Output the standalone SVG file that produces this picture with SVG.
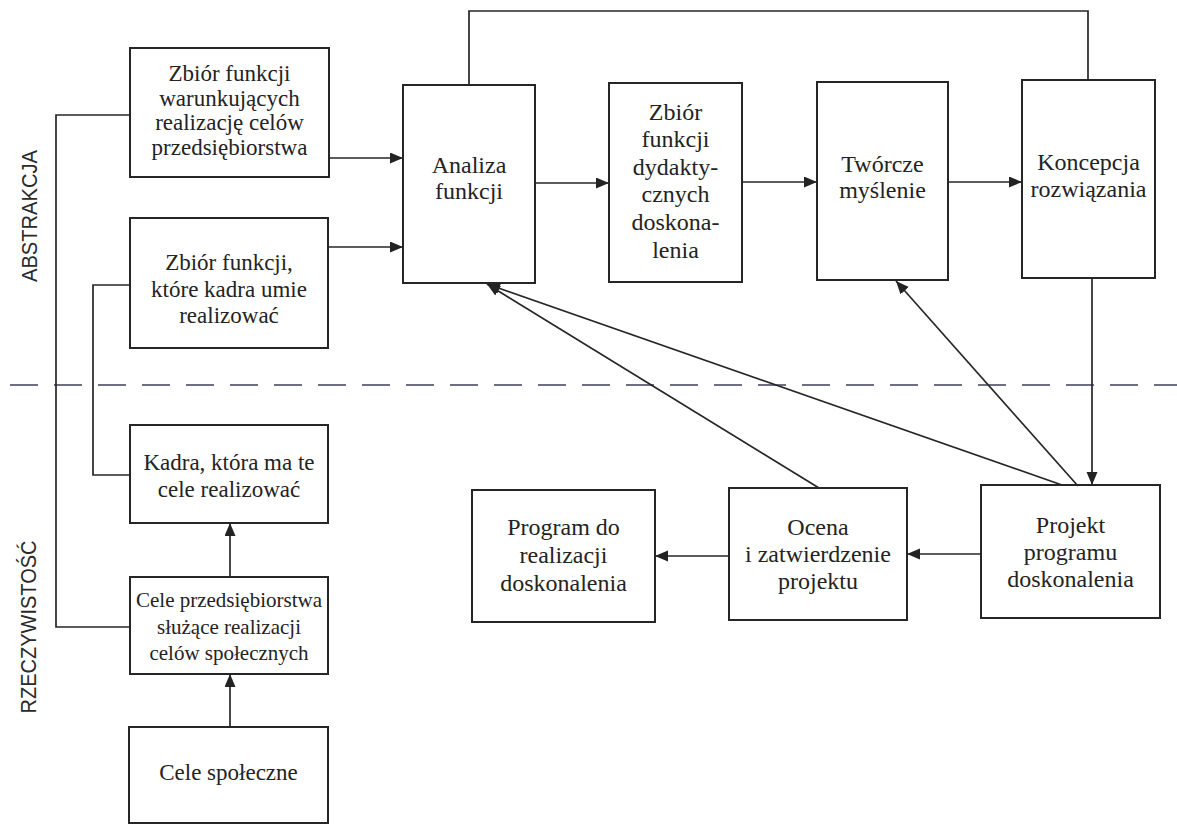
<svg xmlns="http://www.w3.org/2000/svg" width="1177" height="824" viewBox="0 0 1177 824">
<style>
.box{fill:none;stroke:#262626;stroke-width:2}
.t{font-family:"Liberation Serif","Times New Roman",serif;font-size:24px;fill:#232323;text-anchor:middle}
.ts{font-size:23px}
.tss{font-size:21px}
.lbl{font-family:"Liberation Sans",Arial,sans-serif;font-size:22px;fill:#2a2a2a;text-anchor:middle}
.c{fill:none;stroke:#262626;stroke-width:1.7}
.a{marker-end:url(#ah)}
.dash{stroke:#3e4259;stroke-width:1.6;stroke-dasharray:28 16;fill:none}
</style>
<defs>
<marker id="ah" markerUnits="userSpaceOnUse" markerWidth="14" markerHeight="12" refX="13" refY="5.5" orient="auto">
<path d="M0,0 L13,5.5 L0,11 z" fill="#232323"/>
</marker>
</defs>
<rect width="1177" height="824" fill="#ffffff"/>

<line class="dash" x1="10" y1="385" x2="1177" y2="385"/>

<text class="lbl" transform="translate(37,216) rotate(-90)" textLength="132" lengthAdjust="spacingAndGlyphs">ABSTRAKCJA</text>
<text class="lbl" transform="translate(36,627) rotate(-90)" textLength="173" lengthAdjust="spacingAndGlyphs">RZECZYWISTOŚĆ</text>

<g id="connectors">
<line class="c a" x1="329" y1="158" x2="403" y2="158"/>
<line class="c a" x1="328" y1="247" x2="403" y2="247"/>
<line class="c a" x1="535" y1="183" x2="609" y2="183"/>
<line class="c a" x1="742" y1="182" x2="817" y2="182"/>
<line class="c a" x1="948" y1="182" x2="1022" y2="182"/>
<polyline class="c" points="469,85 469,11 1088,11 1088,80"/>
<line class="c a" x1="1092" y1="278" x2="1092" y2="485"/>
<line class="c a" x1="981" y1="554" x2="907" y2="554"/>
<line class="c a" x1="729" y1="556" x2="655" y2="556"/>
<line class="c a" x1="819" y1="488" x2="487" y2="284"/>
<line class="c a" x1="1062" y1="485" x2="487" y2="284"/>
<line class="c a" x1="1078" y1="486" x2="896" y2="281"/>
<line class="c a" x1="230" y1="727" x2="230" y2="674"/>
<line class="c a" x1="230" y1="577" x2="230" y2="523"/>
<polyline class="c" points="130,115 56,115 56,627 130,627"/>
<polyline class="c" points="130,285 93,285 93,475 130,475"/>
</g>

<g id="n1">
<rect class="box" x="130" y="48" width="199" height="129"/>
<text class="t ts" x="229.5" y="81">Zbiór funkcji</text>
<text class="t ts" x="229.5" y="106">warunkujących</text>
<text class="t ts" x="229.5" y="130">realizację celów</text>
<text class="t ts" x="229.5" y="155">przedsiębiorstwa</text>
</g>
<g id="n2">
<rect class="box" x="130" y="218" width="198" height="130"/>
<text class="t ts" x="229" y="270">Zbiór funkcji,</text>
<text class="t ts" x="229" y="297">które kadra umie</text>
<text class="t ts" x="229" y="323">realizować</text>
</g>
<g id="n3">
<rect class="box" x="130" y="425" width="198" height="98"/>
<text class="t ts" x="229" y="470">Kadra, która ma te</text>
<text class="t ts" x="229" y="497">cele realizować</text>
</g>
<g id="n4">
<rect class="box" x="130" y="577" width="198" height="97"/>
<text class="t tss" x="229" y="607">Cele przedsiębiorstwa</text>
<text class="t tss" x="229" y="634">służące realizacji</text>
<text class="t tss" x="229" y="660">celów społecznych</text>
</g>
<g id="n5">
<rect class="box" x="129" y="727" width="199" height="96"/>
<text class="t ts" x="228.5" y="780">Cele społeczne</text>
</g>
<g id="n6">
<rect class="box" x="403" y="85" width="132" height="198"/>
<text class="t" x="469" y="173">Analiza</text>
<text class="t" x="469" y="199">funkcji</text>
</g>
<g id="n7">
<rect class="box" x="609" y="83" width="133" height="199"/>
<text class="t" x="675.5" y="120">Zbiór</text>
<text class="t" x="675.5" y="147">funkcji</text>
<text class="t" x="675.5" y="175">dydakty-</text>
<text class="t" x="675.5" y="202">cznych</text>
<text class="t" x="675.5" y="230">doskona-</text>
<text class="t" x="675.5" y="258">lenia</text>
</g>
<g id="n8">
<rect class="box" x="817" y="82" width="131" height="198"/>
<text class="t" x="882.5" y="172">Twórcze</text>
<text class="t" x="882.5" y="198">myślenie</text>
</g>
<g id="n9">
<rect class="box" x="1022" y="80" width="133" height="198"/>
<text class="t" x="1088.5" y="170">Koncepcja</text>
<text class="t" x="1088.5" y="197">rozwiązania</text>
</g>
<g id="n10">
<rect class="box" x="472" y="490" width="183" height="132"/>
<text class="t" x="563.5" y="535">Program do</text>
<text class="t" x="563.5" y="563">realizacji</text>
<text class="t" x="563.5" y="591">doskonalenia</text>
</g>
<g id="n11">
<rect class="box" x="729" y="488" width="178" height="132"/>
<text class="t" x="818" y="535">Ocena</text>
<text class="t" x="818" y="562">i zatwierdzenie</text>
<text class="t" x="818" y="589">projektu</text>
</g>
<g id="n12">
<rect class="box" x="981" y="485" width="179" height="133"/>
<text class="t" x="1070.5" y="533">Projekt</text>
<text class="t" x="1070.5" y="560">programu</text>
<text class="t" x="1070.5" y="587">doskonalenia</text>
</g>
</svg>
